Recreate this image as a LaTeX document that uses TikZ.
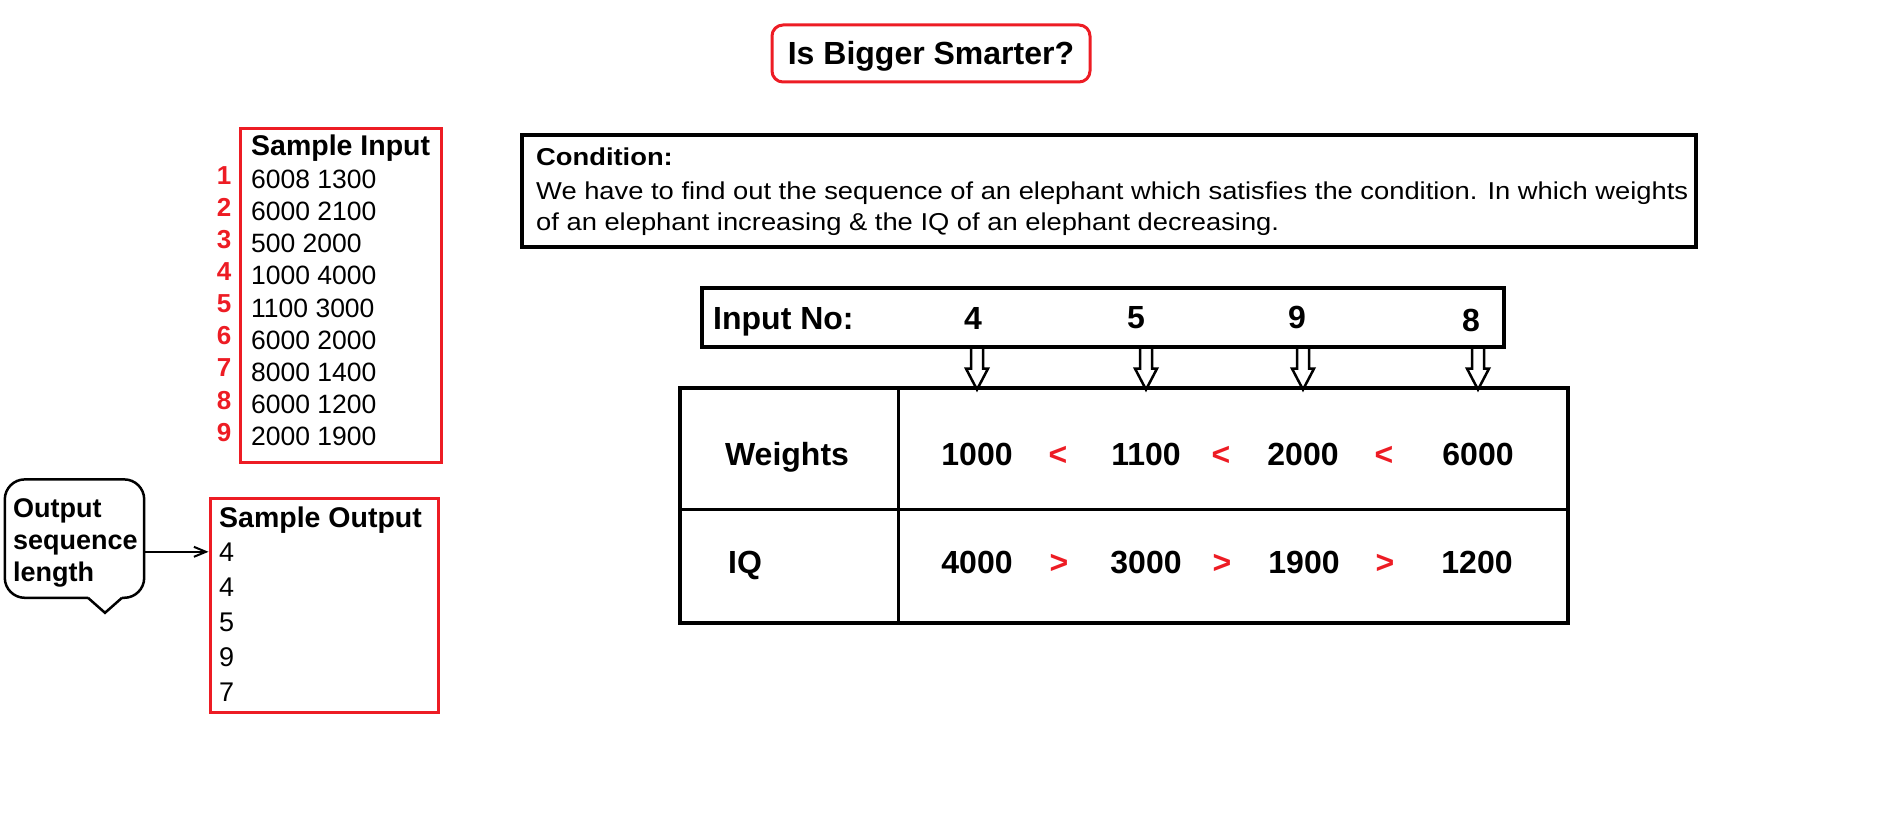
\documentclass[tikz,border=0pt]{standalone}
\usepackage{fontspec}
\setmainfont{Liberation Sans}
\newfontfamily\paintfont[FakeStretch=1.12]{Liberation Sans}
\usetikzlibrary{arrows.meta, calc}
\definecolor{paintred}{HTML}{ED1C24}

\begin{document}
\begin{tikzpicture}[
    x=1pt, y=-1pt,
    frame/.style={draw, line width=3.2, inner sep=0},
    redframe/.style={draw=paintred, line width=3, inner sep=0},
    txt/.style={font=\paintfont\fontsize{24.4}{29}\selectfont, inner sep=0},
    txtb/.style={font=\paintfont\bfseries\fontsize{24.4}{29}\selectfont, inner sep=0},
    sample/.style={font=\fontsize{26.5}{32}\selectfont, inner sep=0},
    samplehead/.style={font=\bfseries\fontsize{28.5}{34}\selectfont, inner sep=0},
    outnum/.style={font=\fontsize{27}{32}\selectfont, inner sep=0},
    calltxt/.style={font=\bfseries\fontsize{27}{32}\selectfont, inner sep=0},
    rednum/.style={font=\bfseries\fontsize{26}{32}\selectfont, text=paintred, inner sep=0},
    big/.style={font=\bfseries\fontsize{32}{38}\selectfont, inner sep=0},
    redsign/.style={big, text=paintred},
    hollowdown/.pic={\draw[line width=2.5] (-6,0) -- (-6,20) -- (-11,20) -- (0,41) -- (11,20) -- (6,20) -- (6,0);},
]
\useasboundingbox (0,0) rectangle (1904,832);

% Title
\node[redframe, rounded corners=11, minimum width=318, minimum height=57,
      big, text height=23, text depth=0] (title) at (931,53.5) {Is Bigger Smarter?};

% Sample input with red line numbers
\node[redframe, minimum width=201, minimum height=334] (inframe) at (340.5,295.5) {};
\node[samplehead, anchor=base west] (inhead) at (251,156) {Sample Input};
\foreach \pair [count=\i] in {6008 1300, 6000 2100, 500 2000, 1000 4000, 1100 3000,
                              6000 2000, 8000 1400, 6000 1200, 2000 1900} {
    \node[sample, anchor=base west] (in\i) at (251,{156+32.2*\i}) {\pair};
    \node[rednum, anchor=base] (num\i) at (224,{152.6+32.05*\i}) {\i};
}

% Sample output
\node[redframe, minimum width=228, minimum height=214] (outframe) at (324,605.2) {};
\node[samplehead, anchor=base west] (outhead) at (219,527.3) {Sample Output};
\foreach \d [count=\i] in {4,4,5,9,7}
    \node[outnum, anchor=base west] (out\i) at (219,{525.9+35.2*\i}) {\d};

% Speech bubble pointing at the first output line
\node[minimum width=139, minimum height=118, inner sep=0] (callout) at (74.5,538.6) {};
\foreach \w/\y [count=\i] in {Output/517, sequence/549, length/581}
    \node[calltxt, anchor=base west] (cl\i) at (13,\y) {\w};
\draw[line width=2.5, rounded corners=20] ($(callout.south)+(13.5,0)$) -- (callout.south west)
    -- (callout.north west) -- (callout.north east) -- (callout.south east)
    -- ($(callout.south)+(47.5,0)$);
\draw[line width=2.5, line join=miter] ($(callout.south)+(13.5,0)$) -- ($(callout.south)+(30.5,15)$)
    -- ($(callout.south)+(47.5,0)$);
\draw[line width=2, -{Straight Barb[length=12pt, width=10pt]}] (callout.east |- out1) -- (outframe.west |- out1);

% Condition
\node[frame, minimum width=1174, minimum height=112] (cond) at (1109,191) {};
\node[txtb, anchor=base west] (condhead) at (536,166) {Condition:};
\node[txt, anchor=base west] (cond1) at (536,200) {We have to find out the sequence of an elephant which satisfies the condition. In which weights};
\node[txt, anchor=base west] (cond2) at (536,230) {of an elephant increasing \& the IQ of an elephant decreasing.};

% Input numbers
\node[frame, minimum width=802, minimum height=59] (inno) at (1103,317.5) {};
\node[big, anchor=base west] (innolbl) at (713,329) {Input No:};
\foreach \d/\x/\y [count=\i] in {4/973/329, 5/1136/328, 9/1297/328, 8/1471/331}
    \node[big, anchor=base] (no\i) at (\x,\y) {\d};

% Table of weights and IQ
\node[frame, minimum width=888, minimum height=235] (tbl) at (1124,505.5) {};
\draw[line width=3.2] ($(tbl.north west)+(220,0)$) -- ($(tbl.south west)+(220,0)$);
\draw[line width=3.2] ($(tbl.north west)+(0,123)$) -- ($(tbl.north east)+(0,123)$);
\node[big, anchor=base] (wlbl) at (787,465) {Weights};
\node[big, anchor=base west] (iqlbl) at (728,573) {IQ};
\foreach \v/\x [count=\i] in {1000/977, 1100/1146, 2000/1303, 6000/1478}
    \node[big, anchor=base] (w\i) at (\x,465) {\v};
\foreach \v/\x [count=\i] in {4000/977, 3000/1146, 1900/1304, 1200/1477}
    \node[big, anchor=base] (q\i) at (\x,573) {\v};
\foreach \x [count=\i] in {1058,1221,1384} {
    \node[redsign, anchor=base] (lt\i) at (\x,465) {<};
    \node[redsign, anchor=base] (gt\i) at ({\x+1},573) {>};
}

% Hollow arrows from input numbers into the table
\foreach \i in {1,...,4}
    \pic at (w\i |- inno.south) {hollowdown};
\end{tikzpicture}
\end{document}
